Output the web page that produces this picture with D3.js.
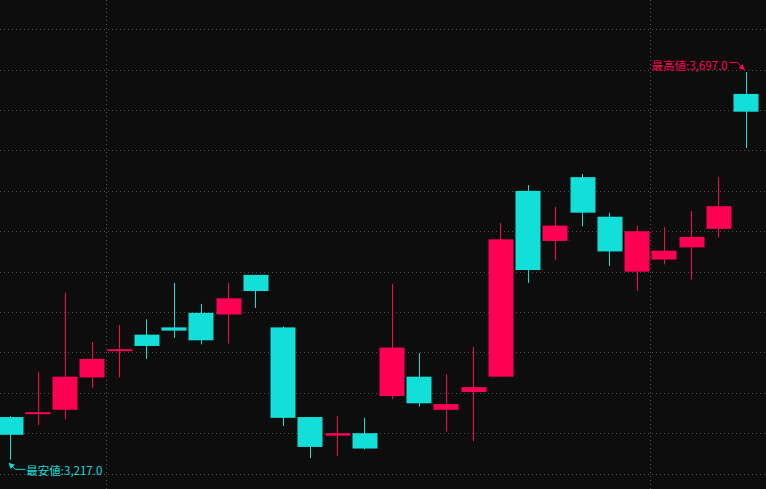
<!DOCTYPE html>
<html lang="ja">
<head>
<meta charset="UTF-8">
<script src="https://d3js.org/d3.v7.min.js"></script>
<style>
body { margin:0; background:#0d0d0d; overflow:hidden; }
.grid line { stroke:#4d4d4d; stroke-width:1px; stroke-dasharray:1,3; }
.lbl { font-family:"Noto Sans CJK JP", sans-serif; font-size:11.5px; }
</style>
<title>chart</title>
</head>
<body>
<script>
// OHLC values
var open  = [3270, 3274, 3279, 3319, 3352, 3372, 3381, 3399, 3397, 3446, 3381, 3270, 3247, 3250,
             3296, 3320, 3279, 3301, 3320, 3550, 3488, 3567, 3518, 3450, 3465, 3480, 3503, 3670];
var high  = [3271, 3326, 3424, 3363, 3384, 3391, 3436, 3410, 3436, 3446, 3382, 3270, 3271, 3269,
             3435, 3349, 3323, 3357, 3510, 3557, 3530, 3571, 3523, 3507, 3505, 3525, 3567, 3697];
var low   = [3217, 3260, 3267, 3306, 3319, 3342, 3368, 3360, 3361, 3405, 3259, 3219, 3222, 3230,
             3292, 3283, 3252, 3240, 3320, 3436, 3464, 3506, 3457, 3426, 3459, 3440, 3492, 3603];
var close = [3248, 3276, 3320, 3342, 3354, 3358, 3377, 3365, 3417, 3426, 3269, 3233, 3250, 3231,
             3356, 3287, 3286, 3307, 3490, 3452, 3507, 3523, 3475, 3500, 3476, 3493, 3531, 3648];
var priceTicks = [3200, 3250, 3300, 3350, 3400, 3450, 3500, 3550, 3600, 3650, 3700, 3750];
var monthBreaks = [4, 24];   // index of first candle after a vertical divider

var width = 766, height = 489;
var up = "#ff0055", down = "#13dfd9";

var svg = d3.select("body").append("svg")
    .attr("width", width)
    .attr("height", height);

svg.append("rect").attr("width", width).attr("height", height).attr("fill", "#0d0d0d");

var x = d3.scaleLinear().domain([0, open.length - 1]).range([10.3, 745.5]);
var y = d3.scaleLinear().domain([3250, 3700]).range([433.2, 69.7]);
var bodyW = 25;

var data = open.map(function(o, i) {
  return {i: i, o: o, h: high[i], l: low[i], c: close[i]};
});

// grid
var grid = svg.append("g").attr("class", "grid");
grid.selectAll(".h").data(priceTicks).enter().append("line")
    .attr("x1", 0).attr("x2", width)
    .attr("y1", function(d) { return Math.round(y(d)) + 0.5; })
    .attr("y2", function(d) { return Math.round(y(d)) + 0.5; });
grid.selectAll(".v").data(monthBreaks).enter().append("line")
    .attr("y1", 0).attr("y2", height)
    .attr("x1", function(d) { return Math.round(x(d) - bodyW / 2) - 0.5; })
    .attr("x2", function(d) { return Math.round(x(d) - bodyW / 2) - 0.5; });

// candles
var candle = svg.append("g").selectAll("g").data(data).enter().append("g");
candle.append("line")
    .attr("x1", function(d) { return Math.round(x(d.i)) + 0.5; })
    .attr("x2", function(d) { return Math.round(x(d.i)) + 0.5; })
    .attr("y1", function(d) { return y(d.h); })
    .attr("y2", function(d) { return y(d.l); })
    .attr("stroke", function(d) { return d.c >= d.o ? up : down; })
    .attr("stroke-width", 1);
candle.append("rect")
    .attr("x", function(d) { return Math.round(x(d.i) - bodyW / 2) + 0.5; })
    .attr("width", bodyW)
    .attr("y", function(d) { return y(Math.max(d.o, d.c)); })
    .attr("height", function(d) { return Math.max(2, Math.abs(y(d.o) - y(d.c))); })
    .attr("fill", function(d) { return d.c >= d.o ? up : down; });

// high / low markers
var hiI = d3.maxIndex(high), loI = d3.minIndex(low);
var defs = svg.append("defs");
[["ah-up", up], ["ah-down", down]].forEach(function(m) {
  defs.append("marker").attr("id", m[0])
      .attr("viewBox", "0 0 6 6").attr("refX", 5).attr("refY", 3)
      .attr("markerWidth", 6).attr("markerHeight", 6).attr("orient", "auto")
    .append("path").attr("d", "M0,0L6,3L0,6Z").attr("fill", m[1]);
});

var hx = x(hiI), hy = y(high[hiI]);
svg.append("path")
    .attr("d", "M" + (hx - 16) + "," + (hy - 9.5) + "H" + (hx - 8) + "L" + (hx - 1.5) + "," + (hy - 2.5))
    .attr("fill", "none").attr("stroke", up).attr("stroke-width", 1)
    .attr("marker-end", "url(#ah-up)");
svg.append("text").attr("class", "lbl")
    .attr("x", hx - 18).attr("y", hy - 2.5)
    .attr("text-anchor", "end").attr("fill", up)
    .text("最高値:" + d3.format(",.1f")(high[hiI]));

var lx = x(loI), ly = y(low[loI]);
svg.append("path")
    .attr("d", "M" + (lx + 15) + "," + (ly + 9.5) + "H" + (lx + 5) + "L" + (lx - 1) + "," + (ly + 3.5))
    .attr("fill", "none").attr("stroke", down).attr("stroke-width", 1)
    .attr("marker-end", "url(#ah-down)");
svg.append("text").attr("class", "lbl")
    .attr("x", lx + 16).attr("y", ly + 15)
    .attr("fill", down)
    .text("最安値:" + d3.format(",.1f")(low[loI]));
</script>
</body>
</html>
